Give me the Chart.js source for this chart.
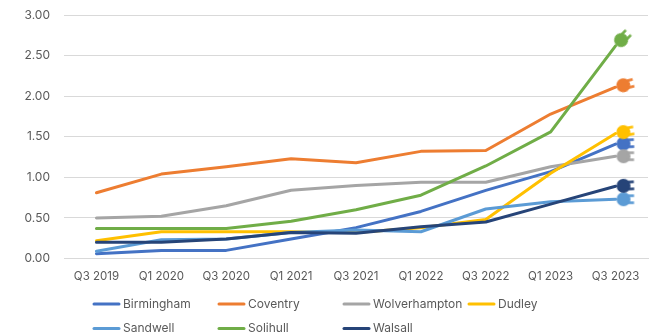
<!DOCTYPE html>
<html><head><meta charset="utf-8">
<style>html,body{margin:0;padding:0;background:#fff}#w{width:660px;height:336px;position:relative}</style>
<script src="https://cdn.jsdelivr.net/npm/chart.js@4"></script></head>
<body><div id="w"><canvas id="c" width="660" height="336"></canvas></div>
<script>
const categories=["Q3 2019","Q1 2020","Q3 2020","Q1 2021","Q3 2021","Q1 2022","Q3 2022","Q1 2023","Q3 2023"];
const birmingham=[0.06,0.10,0.10,0.24,0.38,0.58,0.84,1.07,1.41];
const coventry=[0.81,1.04,1.13,1.23,1.18,1.32,1.33,1.78,2.11];
const wolverhampton=[0.50,0.52,0.65,0.84,0.90,0.94,0.94,1.13,1.26];
const dudley=[0.22,0.33,0.33,0.33,0.32,0.38,0.48,1.05,1.54];
const sandwell=[0.09,0.23,0.24,0.32,0.35,0.33,0.61,0.70,0.73];
const solihull=[0.37,0.37,0.37,0.46,0.60,0.78,1.14,1.56,2.62];
const walsall=[0.20,0.20,0.24,0.32,0.31,0.39,0.45,0.67,0.89];
const names=["Birmingham","Coventry","Wolverhampton","Dudley","Sandwell","Solihull","Walsall"];
const colors=["#4472C4","#ED7D31","#A5A5A5","#FFC000","#5B9BD5","#70AD47","#264478"];
const series=[birmingham,coventry,wolverhampton,dudley,sandwell,solihull,walsall];
const plugAngles=[-3,-14,0,-10,0,-46,-3];
const FONT='Inter, "Open Sans", sans-serif';
const TEXT='#595959';

function plug(color){
  const s=44,c=document.createElement('canvas');c.width=s;c.height=s;
  const x=c.getContext('2d');x.fillStyle=color;
  const o=8,cx=s/2+o,cy=s/2;
  x.beginPath();x.arc(cx,cy,7,0,Math.PI*2);x.fill();
  x.fillRect(cx+3,cy-4.8,7.5,2.6);
  x.fillRect(cx+3,cy+2.2,7.5,2.6);
  return c;
}

const gridLegend={id:'gridLegend',afterDraw(ch){
  const g=ch.ctx;g.save();
  g.font='12px '+FONT;g.textBaseline='middle';g.textAlign='left';
  ch.data.datasets.forEach((d,i)=>{
    const col=i%4,row=Math.floor(i/4);
    const x=93+col*125,y=304+row*24.5;
    g.strokeStyle=d.borderColor;g.lineWidth=3;g.lineCap='round';
    g.beginPath();g.moveTo(x+1,y);g.lineTo(x+26,y);g.stroke();
    g.fillStyle=TEXT;g.fillText(d.label,x+30,y);
  });
  g.restore();
}};

new Chart(document.getElementById('c'),{
  type:'line',
  data:{labels:categories,datasets:series.map((v,i)=>({
    label:names[i],data:v,borderColor:colors[i],backgroundColor:colors[i],
    borderWidth:3,tension:0,fill:false,clip:false,order:series.length-i,
    borderJoinStyle:'round',borderCapStyle:'round',
    pointRadius:v.map((_,k)=>k===v.length-1?12:0),
    pointHoverRadius:0,
    pointStyle:v.map((_,k)=>k===v.length-1?plug(colors[i]):false),
    pointRotation:v.map((_,k)=>k===v.length-1?plugAngles[i]:0)
  }))},
  options:{
    responsive:false,animation:false,
    layout:{autoPadding:false,padding:{top:15,right:12,left:0,bottom:0}},
    plugins:{legend:{display:false},tooltip:{enabled:false}},
    scales:{
      x:{offset:true,grid:{display:false},border:{color:'#d9d9d9'},
        ticks:{color:TEXT,font:{family:FONT,size:11.5},padding:3,maxRotation:0,autoSkip:false},
        afterFit(s){s.height=77.5;s.paddingLeft=0;s.paddingRight=0;}},
      y:{min:0,max:3,grid:{color:'#d9d9d9',drawTicks:false,lineWidth:1},border:{display:false},
        ticks:{stepSize:0.5,color:TEXT,font:{family:FONT,size:12},padding:14,callback:v=>v.toFixed(2)},
        afterFit(s){s.width=64;s.paddingTop=0;s.paddingBottom=0;}}
    }
  },
  plugins:[gridLegend]
});
</script></body></html>
